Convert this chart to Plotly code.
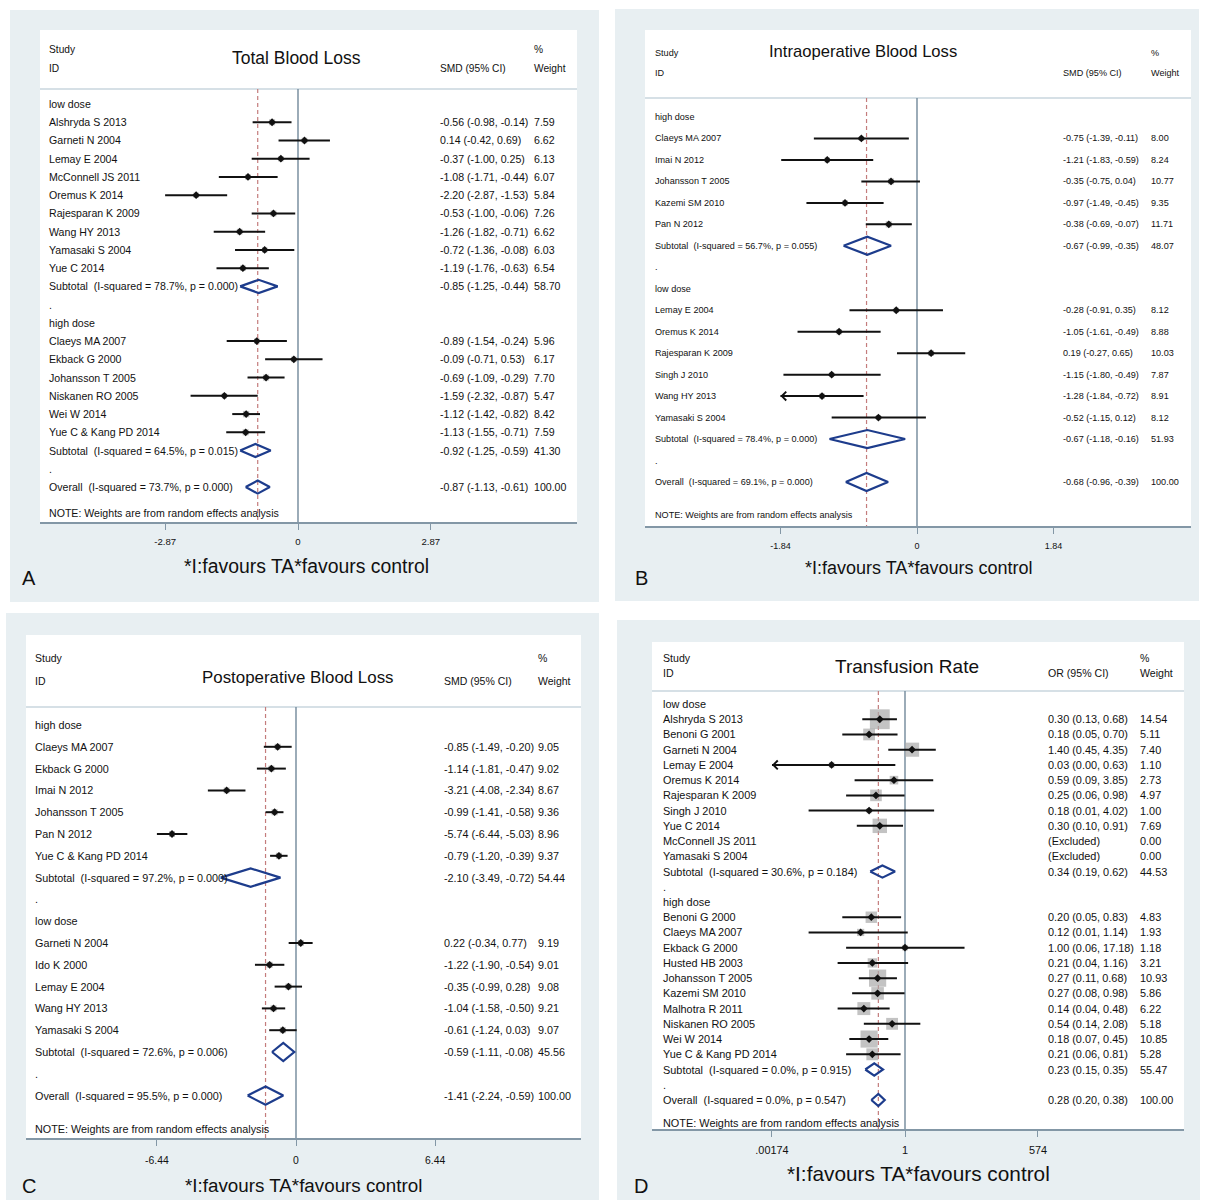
import numpy as np
import plotly.graph_objects as go

W, H = 1205, 1204
SANS = "Liberation Sans, Arial, sans-serif"
INK = "#111111"

# ---------------- A: Total Blood Loss (SMD) ----------------
tbl_groups = ["low dose", "high dose"]
tbl_study = ["Alshryda S 2013", "Garneti N 2004", "Lemay E 2004", "McConnell JS 2011",
             "Oremus K 2014", "Rajesparan K 2009", "Wang HY 2013", "Yamasaki S 2004",
             "Yue C 2014", "Claeys MA 2007", "Ekback G 2000", "Johansson T 2005",
             "Niskanen RO 2005", "Wei W 2014", "Yue C & Kang PD 2014"]
tbl_grp = [0, 0, 0, 0, 0, 0, 0, 0, 0, 1, 1, 1, 1, 1, 1]
tbl_est = [-0.56, 0.14, -0.37, -1.08, -2.20, -0.53, -1.26, -0.72, -1.19,
           -0.89, -0.09, -0.69, -1.59, -1.12, -1.13]
tbl_lo = [-0.98, -0.42, -1.00, -1.71, -2.87, -1.00, -1.82, -1.36, -1.76,
          -1.54, -0.71, -1.09, -2.32, -1.42, -1.55]
tbl_hi = [-0.14, 0.69, 0.25, -0.44, -1.53, -0.06, -0.71, -0.08, -0.63,
          -0.24, 0.53, -0.29, -0.87, -0.82, -0.71]
tbl_wt = [7.59, 6.62, 6.13, 6.07, 5.84, 7.26, 6.62, 6.03, 6.54,
          5.96, 6.17, 7.70, 5.47, 8.42, 7.59]
tbl_sub = {"est": [-0.85, -0.92], "lo": [-1.25, -1.25], "hi": [-0.44, -0.59],
           "wt": [58.70, 41.30], "i2": [78.7, 64.5], "p": [0.000, 0.015]}
tbl_all = {"est": -0.87, "lo": -1.13, "hi": -0.61, "wt": 100.00, "i2": 73.7, "p": 0.000}

# ---------------- B: Intraoperative Blood Loss (SMD) ----------------
ibl_groups = ["high dose", "low dose"]
ibl_study = ["Claeys MA 2007", "Imai N 2012", "Johansson T 2005", "Kazemi SM 2010",
             "Pan N 2012", "Lemay E 2004", "Oremus K 2014", "Rajesparan K 2009",
             "Singh J 2010", "Wang HY 2013", "Yamasaki S 2004"]
ibl_grp = [0, 0, 0, 0, 0, 1, 1, 1, 1, 1, 1]
ibl_est = [-0.75, -1.21, -0.35, -0.97, -0.38, -0.28, -1.05, 0.19, -1.15, -1.28, -0.52]
ibl_lo = [-1.39, -1.83, -0.75, -1.49, -0.69, -0.91, -1.61, -0.27, -1.80, -1.84, -1.15]
ibl_hi = [-0.11, -0.59, 0.04, -0.45, -0.07, 0.35, -0.49, 0.65, -0.49, -0.72, 0.12]
ibl_wt = [8.00, 8.24, 10.77, 9.35, 11.71, 8.12, 8.88, 10.03, 7.87, 8.91, 8.12]
ibl_sub = {"est": [-0.67, -0.67], "lo": [-0.99, -1.18], "hi": [-0.35, -0.16],
           "wt": [48.07, 51.93], "i2": [56.7, 78.4], "p": [0.055, 0.000]}
ibl_all = {"est": -0.68, "lo": -0.96, "hi": -0.39, "wt": 100.00, "i2": 69.1, "p": 0.000}
ibl_clipped = ["Wang HY 2013"]

# ---------------- C: Postoperative Blood Loss (SMD) ----------------
pbl_groups = ["high dose", "low dose"]
pbl_study = ["Claeys MA 2007", "Ekback G 2000", "Imai N 2012", "Johansson T 2005",
             "Pan N 2012", "Yue C & Kang PD 2014", "Garneti N 2004", "Ido K 2000",
             "Lemay E 2004", "Wang HY 2013", "Yamasaki S 2004"]
pbl_grp = [0, 0, 0, 0, 0, 0, 1, 1, 1, 1, 1]
pbl_est = [-0.85, -1.14, -3.21, -0.99, -5.74, -0.79, 0.22, -1.22, -0.35, -1.04, -0.61]
pbl_lo = [-1.49, -1.81, -4.08, -1.41, -6.44, -1.20, -0.34, -1.90, -0.99, -1.58, -1.24]
pbl_hi = [-0.20, -0.47, -2.34, -0.58, -5.03, -0.39, 0.77, -0.54, 0.28, -0.50, 0.03]
pbl_wt = [9.05, 9.02, 8.67, 9.36, 8.96, 9.37, 9.19, 9.01, 9.08, 9.21, 9.07]
pbl_sub = {"est": [-2.10, -0.59], "lo": [-3.49, -1.11], "hi": [-0.72, -0.08],
           "wt": [54.44, 45.56], "i2": [97.2, 72.6], "p": [0.000, 0.006]}
pbl_all = {"est": -1.41, "lo": -2.24, "hi": -0.59, "wt": 100.00, "i2": 95.5, "p": 0.000}

# ---------------- D: Transfusion Rate (OR) ----------------
trf_groups = ["low dose", "high dose"]
trf_study = ["Alshryda S 2013", "Benoni G 2001", "Garneti N 2004", "Lemay E 2004",
             "Oremus K 2014", "Rajesparan K 2009", "Singh J 2010", "Yue C 2014",
             "McConnell JS 2011", "Yamasaki S 2004",
             "Benoni G 2000", "Claeys MA 2007", "Ekback G 2000", "Husted HB 2003",
             "Johansson T 2005", "Kazemi SM 2010", "Malhotra R 2011", "Niskanen RO 2005",
             "Wei W 2014", "Yue C & Kang PD 2014"]
trf_grp = [0, 0, 0, 0, 0, 0, 0, 0, 0, 0, 1, 1, 1, 1, 1, 1, 1, 1, 1, 1]
trf_est = [0.30, 0.18, 1.40, 0.03, 0.59, 0.25, 0.18, 0.30, None, None,
           0.20, 0.12, 1.00, 0.21, 0.27, 0.27, 0.14, 0.54, 0.18, 0.21]
trf_lo = [0.13, 0.05, 0.45, 0.00, 0.09, 0.06, 0.01, 0.10, None, None,
          0.05, 0.01, 0.06, 0.04, 0.11, 0.08, 0.04, 0.14, 0.07, 0.06]
trf_hi = [0.68, 0.70, 4.35, 0.63, 3.85, 0.98, 4.02, 0.91, None, None,
          0.83, 1.14, 17.18, 1.16, 0.68, 0.98, 0.48, 2.08, 0.45, 0.81]
trf_wt = [14.54, 5.11, 7.40, 1.10, 2.73, 4.97, 1.00, 7.69, 0.00, 0.00,
          4.83, 1.93, 1.18, 3.21, 10.93, 5.86, 6.22, 5.18, 10.85, 5.28]
trf_sub = {"est": [0.34, 0.23], "lo": [0.19, 0.15], "hi": [0.62, 0.35],
           "wt": [44.53, 55.47], "i2": [30.6, 0.0], "p": [0.184, 0.915]}
trf_all = {"est": 0.28, "lo": 0.20, "hi": 0.38, "wt": 100.00, "i2": 0.0, "p": 0.547}

XLABEL = "*I:favours TA*favours control"
NOTE = "NOTE: Weights are from random effects analysis"


def build_rows(groups, study, grp, est, lo, hi, wt, sub, tot, clipped=()):
    rows = []
    for g, gname in enumerate(groups):
        rows.append(dict(kind="group", label=gname))
        for i in range(len(study)):
            if grp[i] != g:
                continue
            if est[i] is None:
                rows.append(dict(kind="excluded", label=study[i], wt=wt[i]))
            else:
                rows.append(dict(kind="study", label=study[i], est=est[i], lo=lo[i],
                                 hi=hi[i], wt=wt[i], clip=study[i] in clipped))
        rows.append(dict(kind="sub",
                         label=f"Subtotal  (I-squared = {sub['i2'][g]:.1f}%, p = {sub['p'][g]:.3f})",
                         est=sub["est"][g], lo=sub["lo"][g], hi=sub["hi"][g], wt=sub["wt"][g]))
        rows.append(dict(kind="blank", label="."))
    rows.append(dict(kind="sub",
                     label=f"Overall  (I-squared = {tot['i2']:.1f}%, p = {tot['p']:.3f})",
                     est=tot["est"], lo=tot["lo"], hi=tot["hi"], wt=tot["wt"]))
    return rows


panels = [
    dict(letter="A", title="Total Blood Loss", measure="SMD (95% CI)", log=False,
         rows=build_rows(tbl_groups, tbl_study, tbl_grp, tbl_est, tbl_lo, tbl_hi, tbl_wt, tbl_sub, tbl_all),
         overall=tbl_all["est"], null=0.0,
         ticks=[-2.87, 0, 2.87], ticktext=["-2.87", "0", "2.87"],
         bg=(10, 10, 599, 602), box=(40, 30, 577, 522), hdr=89,
         x0=298, ppu=46.3, row0=104, dy=18.24,
         lab_x=47, eff_x=438, wt_x=532, study_y=50, id_y=68, title_xy=(296, 58),
         fs=10.6, hfs=10.2, tfs=17.5, tickfs=9.6, xlab_xy=(306, 566), xfs=19.4,
         letter_xy=(29, 578), note_y=513, dh=0.36, box_k=2.2, stand=4),
    dict(letter="B", title="Intraoperative Blood Loss", measure="SMD (95% CI)", log=False,
         rows=build_rows(ibl_groups, ibl_study, ibl_grp, ibl_est, ibl_lo, ibl_hi, ibl_wt, ibl_sub, ibl_all,
                         ibl_clipped),
         overall=ibl_all["est"], null=0.0,
         ticks=[-1.84, 0, 1.84], ticktext=["-1.84", "0", "1.84"],
         bg=(615, 9, 1199, 601), box=(645, 30, 1191, 526), hdr=98,
         x0=917, ppu=74.2, row0=117, dy=21.47,
         lab_x=653, eff_x=1061, wt_x=1149, study_y=53, id_y=73, title_xy=(863, 52),
         fs=9.1, hfs=9.1, tfs=16.6, tickfs=9.0, xlab_xy=(918, 568), xfs=18.0,
         letter_xy=(641, 578), note_y=515, dh=0.42, box_k=1.8, stand=4),
    dict(letter="C", title="Postoperative Blood Loss", measure="SMD (95% CI)", log=False,
         rows=build_rows(pbl_groups, pbl_study, pbl_grp, pbl_est, pbl_lo, pbl_hi, pbl_wt, pbl_sub, pbl_all),
         overall=pbl_all["est"], null=0.0,
         ticks=[-6.44, 0, 6.44], ticktext=["-6.44", "0", "6.44"],
         bg=(6, 613, 599, 1200), box=(26, 635, 581, 1138), hdr=707,
         x0=296, ppu=21.6, row0=725, dy=21.8,
         lab_x=33, eff_x=442, wt_x=536, study_y=658, id_y=681, title_xy=(298, 677),
         fs=10.8, hfs=10.5, tfs=16.9, tickfs=10.4, xlab_xy=(303, 1185), xfs=18.8,
         letter_xy=(29, 1186), note_y=1129, dh=0.42, box_k=2.0, stand=6),
    dict(letter="D", title="Transfusion Rate", measure="OR (95% CI)", log=True,
         rows=build_rows(trf_groups, trf_study, trf_grp, trf_est, trf_lo, trf_hi, trf_wt, trf_sub, trf_all),
         overall=trf_all["est"], null=1.0,
         ticks=[0.00174, 1, 574], ticktext=[".00174", "1", "574"],
         bg=(617, 620, 1200, 1200), box=(652, 642, 1184, 1129), hdr=691,
         x0=905, ppu=48.2, row0=704, dy=15.23,
         lab_x=661, eff_x=1046, wt_x=1138, study_y=658, id_y=673, title_xy=(907, 666),
         fs=10.9, hfs=10.6, tfs=19.0, tickfs=10.9, xlab_xy=(918, 1173), xfs=20.8,
         letter_xy=(641, 1186), note_y=1123, dh=0.40, box_k=5.2, stand=4),
]


def px(x):
    return x / W


def py(y):
    return 1 - y / H


fig = go.Figure()
shapes, annots = [], []
layout_axes = {}

for n, p in enumerate(panels, start=1):
    xa = "x" if n == 1 else f"x{n}"
    ya = "y" if n == 1 else f"y{n}"
    L, T, R, B = p["box"]
    lg = p["log"]
    tf = (lambda v: np.log10(v)) if lg else (lambda v: v)

    # panel background, white plot box and header rule
    bx0, by0, bx1, by1 = p["bg"]
    shapes.append(dict(type="rect", xref="paper", yref="paper", layer="below",
                       x0=px(bx0), x1=px(bx1), y0=py(by1), y1=py(by0),
                       fillcolor="#e8eff2", line=dict(width=0)))
    shapes.append(dict(type="rect", xref="paper", yref="paper", layer="below",
                       x0=px(L), x1=px(R), y0=py(B), y1=py(T),
                       fillcolor="#ffffff", line=dict(width=0)))
    shapes.append(dict(type="line", xref="paper", yref="paper", layer="below",
                       x0=px(L), x1=px(R), y0=py(p["hdr"]), y1=py(p["hdr"]),
                       line=dict(color="#d6e0e6", width=2)))

    xr = [(L - p["x0"]) / p["ppu"], (R - p["x0"]) / p["ppu"]]
    yr = [(B - p["row0"]) / p["dy"], (T - p["row0"]) / p["dy"]]
    hdr_row = (p["hdr"] - p["row0"]) / p["dy"]
    xmin_tick = p["ticks"][0]

    layout_axes["xaxis" if n == 1 else f"xaxis{n}"] = dict(
        domain=[px(L), px(R)], range=xr, type="log" if lg else "linear",
        anchor=ya, tickmode="array", tickvals=p["ticks"], ticktext=p["ticktext"],
        ticks="outside", ticklen=6, tickwidth=1.3, tickcolor="#8397a6",
        showline=True, linecolor="#8397a6", linewidth=1.6,
        showgrid=False, zeroline=False, fixedrange=True, ticklabelstandoff=p["stand"],
        tickfont=dict(family=SANS, size=p["tickfs"], color=INK))
    layout_axes["yaxis" if n == 1 else f"yaxis{n}"] = dict(
        domain=[py(B), py(T)], range=yr, anchor=xa, visible=False,
        showgrid=False, zeroline=False, fixedrange=True)

    rows = p["rows"]
    # null line and overall-estimate line
    fig.add_trace(go.Scatter(x=[p["null"], p["null"]], y=[hdr_row, yr[0]], mode="lines",
                             line=dict(color="#71889a", width=1.4), xaxis=xa, yaxis=ya,
                             hoverinfo="skip", showlegend=False))
    fig.add_trace(go.Scatter(x=[p["overall"], p["overall"]], y=[hdr_row, yr[0]], mode="lines",
                             line=dict(color="#c47c7c", width=1.2, dash="4px,3px"),
                             xaxis=xa, yaxis=ya, hoverinfo="skip", showlegend=False))

    sq_x, sq_y, sq_s = [], [], []
    ci_x, ci_y = [], []
    pt_x, pt_y = [], []
    dm_x, dm_y = [], []
    for r, row in enumerate(rows):
        k = row["kind"]
        annots.append(dict(xref="paper", yref=ya, x=px(p["lab_x"]), y=r, text=row["label"],
                           showarrow=False, xanchor="left", yanchor="middle",
                           font=dict(family=SANS, size=p["fs"], color=INK)))
        if k == "study":
            lo = row["lo"]
            clip = row["clip"] or lo < xmin_tick
            lo_draw = xmin_tick if clip else lo
            sq_x.append(row["est"]); sq_y.append(r); sq_s.append(p["box_k"] * np.sqrt(row["wt"]))
            ci_x += [lo_draw, row["hi"], None]; ci_y += [r, r, None]
            pt_x.append(row["est"]); pt_y.append(r)
            if clip:
                annots.append(dict(xref=xa, yref=ya, axref=xa, ayref=ya,
                                   x=tf(lo_draw), y=r, ax=tf(lo_draw) + 0.02 * (xr[1] - xr[0]), ay=r,
                                   text="", showarrow=True, arrowhead=4, arrowsize=0.85,
                                   arrowwidth=2, arrowcolor="#111111", standoff=0))
            eff = f"{row['est']:.2f} ({row['lo']:.2f}, {row['hi']:.2f})"
        elif k == "excluded":
            eff = "(Excluded)"
        elif k == "sub":
            h = p["dh"]
            dm_x += [row["lo"], row["est"], row["hi"], row["est"], row["lo"], None]
            dm_y += [r, r - h, r, r + h, r, None]
            eff = f"{row['est']:.2f} ({row['lo']:.2f}, {row['hi']:.2f})"
        else:
            eff = None
        if eff is not None:
            annots.append(dict(xref="paper", yref=ya, x=px(p["eff_x"]), y=r, text=eff,
                               showarrow=False, xanchor="left", yanchor="middle",
                               font=dict(family=SANS, size=p["fs"], color=INK)))
            annots.append(dict(xref="paper", yref=ya, x=px(p["wt_x"]), y=r, text=f"{row['wt']:.2f}",
                               showarrow=False, xanchor="left", yanchor="middle",
                               font=dict(family=SANS, size=p["fs"], color=INK)))

    fig.add_trace(go.Scatter(x=sq_x, y=sq_y, mode="markers", xaxis=xa, yaxis=ya,
                             marker=dict(symbol="square", size=sq_s, color="#a9a9a9",
                                         line=dict(width=0)),
                             hoverinfo="skip", showlegend=False))
    fig.add_trace(go.Scatter(x=ci_x, y=ci_y, mode="lines", xaxis=xa, yaxis=ya,
                             line=dict(color="#111111", width=2.0),
                             hoverinfo="skip", showlegend=False, connectgaps=False))
    fig.add_trace(go.Scatter(x=pt_x, y=pt_y, mode="markers", xaxis=xa, yaxis=ya,
                             marker=dict(symbol="diamond", size=6, color="#111111"),
                             hoverinfo="skip", showlegend=False))
    fig.add_trace(go.Scatter(x=dm_x, y=dm_y, mode="lines", xaxis=xa, yaxis=ya,
                             line=dict(color="#1d3c8c", width=2.2),
                             hoverinfo="skip", showlegend=False, connectgaps=False))

    # header block
    for txt, xx, yy in [("Study", p["lab_x"], p["study_y"]),
                        ("ID", p["lab_x"], p["id_y"]),
                        (p["measure"], p["eff_x"], p["id_y"]),
                        ("%", p["wt_x"], p["study_y"]),
                        ("Weight", p["wt_x"], p["id_y"])]:
        annots.append(dict(xref="paper", yref="paper", x=px(xx), y=py(yy), text=txt,
                           showarrow=False, xanchor="left", yanchor="middle",
                           font=dict(family=SANS, size=p["hfs"], color=INK)))
    annots.append(dict(xref="paper", yref="paper", x=px(p["title_xy"][0]), y=py(p["title_xy"][1]),
                       text=p["title"], showarrow=False, xanchor="center", yanchor="middle",
                       font=dict(family=SANS, size=p["tfs"], color=INK)))
    annots.append(dict(xref="paper", yref="paper", x=px(p["lab_x"]), y=py(p["note_y"]),
                       text=NOTE, showarrow=False, xanchor="left", yanchor="middle",
                       font=dict(family=SANS, size=p["fs"], color=INK)))
    annots.append(dict(xref="paper", yref="paper", x=px(p["xlab_xy"][0]), y=py(p["xlab_xy"][1]),
                       text=XLABEL, showarrow=False, xanchor="center", yanchor="middle",
                       font=dict(family=SANS, size=p["xfs"], color=INK)))
    annots.append(dict(xref="paper", yref="paper", x=px(p["letter_xy"][0]), y=py(p["letter_xy"][1]),
                       text=p["letter"], showarrow=False, xanchor="center", yanchor="middle",
                       font=dict(family=SANS, size=20, color=INK)))

fig.update_layout(width=W, height=H, margin=dict(l=0, r=0, t=0, b=0),
                  paper_bgcolor="#ffffff", plot_bgcolor="rgba(0,0,0,0)",
                  showlegend=False, shapes=shapes, annotations=annots, **layout_axes)

fig.write_html("out.html")
